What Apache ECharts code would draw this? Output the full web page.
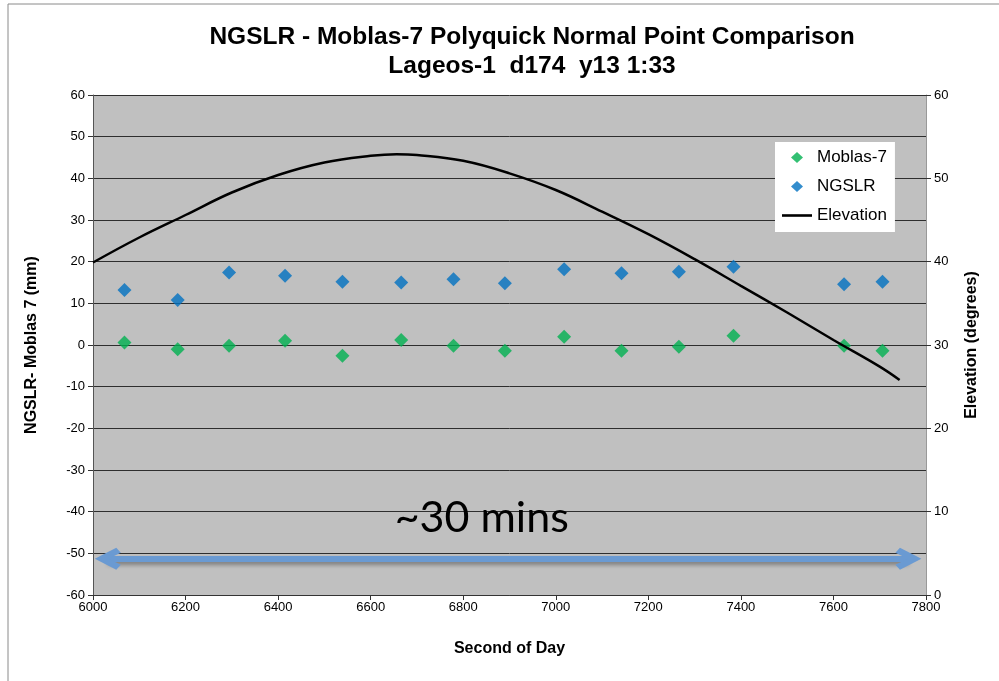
<!DOCTYPE html>
<html>
<head>
<meta charset="utf-8">
<script src="https://cdn.jsdelivr.net/npm/echarts@6/dist/echarts.min.js"></script>
<style>
  html, body { margin: 0; padding: 0; background: #fff; }
  #chart { width: 999px; height: 681px; }
</style>
</head>
<body>
<div id="chart"></div>
<script>
// normal point times (second of day)
var secMoblas = [6068, 6183, 6294, 6415, 6539, 6666, 6779, 6890, 7018, 7142, 7266, 7384, 7623, 7706];
var moblasVals = [0.6, -1.0, -0.2, 1.0, -2.6, 1.2, -0.2, -1.4, 2.0, -1.4, -0.4, 2.2, -0.2, -1.4];
var secNgslr = [6068, 6183, 6294, 6415, 6539, 6666, 6779, 6890, 7018, 7142, 7266, 7384, 7623, 7706];
var ngslrVals = [13.2, 10.8, 17.4, 16.6, 15.2, 15.0, 15.8, 14.8, 18.2, 17.2, 17.6, 18.8, 14.6, 15.2];

// elevation of the pass
var elevSec = [6000, 6100, 6200, 6300, 6400, 6500, 6600, 6656, 6700, 6800, 6900, 7000, 7100, 7200, 7300, 7400, 7500, 7600, 7700, 7743];
var elevDeg = [39.9, 42.9, 45.6, 48.3, 50.4, 51.9, 52.7, 52.9, 52.8, 52.1, 50.6, 48.6, 46.0, 43.3, 40.3, 37.1, 33.9, 30.6, 27.4, 25.8];

// "~30 mins" annotation
var spanArrow = [[6032, -51.3], [7762, -51.3]];
var spanLabel = [6840, -41.5];

var xTicks = { min: 6000, max: 7800, step: 200 };
var leftTicks = { min: -60, max: 60, step: 10 };
var rightTicks = { min: 0, max: 60, step: 10 };

function zip(a, b) {
  return a.map(function (v, i) { return [v, b[i]]; });
}

var chevron = 'path://M11,0 L22,19 L17,23 L11,12 L5,23 L0,19 Z';
var diamondIcon = 'path://M0,0 M30,11 M15,0 L21,5.5 L15,11 L9,5.5 Z';
var lineIcon = 'path://M0,0 M30,11 M0,4.2 L30,4.2 L30,6.8 L0,6.8 Z';
var fontAx = 'Liberation Sans, Arial';

var option = {
  backgroundColor: '#fff',
  animation: false,
  title: {
    text: 'NGSLR - Moblas-7 Polyquick Normal Point Comparison\nLageos-1  d174  y13 1:33',
    left: 527,
    textAlign: 'center',
    top: 18,
    textStyle: {
      fontFamily: fontAx,
      fontWeight: 'bold',
      fontSize: 24.5,
      lineHeight: 29,
      color: '#000'
    }
  },
  graphic: [{
    type: 'rect',
    shape: { x: 8, y: 4, width: 1000, height: 700 },
    style: { fill: 'none', stroke: '#8a8a8a', lineWidth: 1 },
    silent: true
  }],
  legend: {
    orient: 'vertical',
    left: 775,
    top: 142,
    backgroundColor: '#fff',
    padding: [7, 8, 8, 7],
    itemWidth: 30,
    itemHeight: 11,
    itemGap: 12,
    textStyle: { fontFamily: fontAx, fontSize: 17, color: '#000' },
    data: [
      { name: 'Moblas-7', icon: diamondIcon },
      { name: 'NGSLR', icon: diamondIcon },
      { name: 'Elevation', icon: lineIcon }
    ]
  },
  grid: {
    left: 93,
    right: 73,
    top: 95,
    bottom: 86,
    show: true,
    backgroundColor: '#c0c0c0',
    borderWidth: 0
  },
  xAxis: {
    type: 'value',
    min: xTicks.min,
    max: xTicks.max,
    interval: xTicks.step,
    name: 'Second of Day',
    nameLocation: 'middle',
    nameGap: 46,
    nameTextStyle: { fontFamily: fontAx, fontWeight: 'bold', fontSize: 16, color: '#000' },
    axisLine: { onZero: false, lineStyle: { color: '#333', width: 1 } },
    axisTick: { show: true, length: 5, lineStyle: { color: '#333' } },
    axisLabel: {
      fontFamily: fontAx, fontSize: 13, color: '#000', margin: 6,
      formatter: function (v) { return String(v); }
    },
    splitLine: { show: false }
  },
  yAxis: [{
    type: 'value',
    min: leftTicks.min,
    max: leftTicks.max,
    interval: leftTicks.step,
    position: 'left',
    name: 'NGSLR- Moblas 7 (mm)',
    nameLocation: 'middle',
    nameGap: 53,
    nameTextStyle: { fontFamily: fontAx, fontWeight: 'bold', fontSize: 16, color: '#000' },
    axisLine: { show: true, onZero: false, lineStyle: { color: '#555', width: 1 } },
    axisTick: { show: true, length: 5, lineStyle: { color: '#333' } },
    axisLabel: { fontFamily: fontAx, fontSize: 13, color: '#000', margin: 8 },
    splitLine: { show: true, lineStyle: { color: '#2e2e2e', width: 1 } }
  }, {
    type: 'value',
    min: rightTicks.min,
    max: rightTicks.max,
    interval: rightTicks.step,
    position: 'right',
    name: 'Elevation (degrees)',
    nameLocation: 'middle',
    nameGap: 38,
    nameRotate: 90,
    nameTextStyle: { fontFamily: fontAx, fontWeight: 'bold', fontSize: 16, color: '#000' },
    axisLine: { show: true, onZero: false, lineStyle: { color: '#999', width: 1 } },
    axisTick: { show: true, length: 5, lineStyle: { color: '#333' } },
    axisLabel: { fontFamily: fontAx, fontSize: 13, color: '#000', margin: 8 },
    splitLine: { show: false }
  }],
  series: [{
    name: 'Moblas-7',
    type: 'scatter',
    yAxisIndex: 0,
    symbol: 'diamond',
    symbolSize: 14,
    itemStyle: { color: '#00b050' },
    data: zip(secMoblas, moblasVals),
    z: 3
  }, {
    name: 'NGSLR',
    type: 'scatter',
    yAxisIndex: 0,
    symbol: 'diamond',
    symbolSize: 14,
    itemStyle: { color: '#0070c0' },
    data: zip(secNgslr, ngslrVals),
    z: 3
  }, {
    name: 'Elevation',
    type: 'line',
    yAxisIndex: 1,
    smooth: 0.4,
    symbol: 'none',
    lineStyle: { color: '#000', width: 2.5 },
    itemStyle: { color: '#000' },
    data: zip(elevSec, elevDeg),
    z: 4
  }, {
    name: 'span',
    type: 'line',
    yAxisIndex: 0,
    data: [],
    silent: true,
    markLine: {
      silent: true,
      symbol: [chevron, chevron],
      symbolSize: [22, 26],
      label: { show: false },
      lineStyle: {
        type: 'solid',
        color: '#6a9ad2',
        width: 6,
        shadowColor: 'rgba(0,0,0,0.35)',
        shadowBlur: 4,
        shadowOffsetY: 3
      },
      data: [[{ coord: spanArrow[0] }, { coord: spanArrow[1] }]]
    },
    markPoint: {
      silent: true,
      symbol: 'circle',
      symbolSize: 0,
      label: {
        show: true,
        position: 'inside',
        formatter: '~30 mins',
        fontFamily: 'Lato, Open Sans, sans-serif',
        fontSize: 43,
        color: '#000'
      },
      data: [{ coord: spanLabel }]
    }
  }]
};

var chart = echarts.init(document.getElementById('chart'), null, { renderer: 'canvas' });
chart.setOption(option);
</script>
</body>
</html>
